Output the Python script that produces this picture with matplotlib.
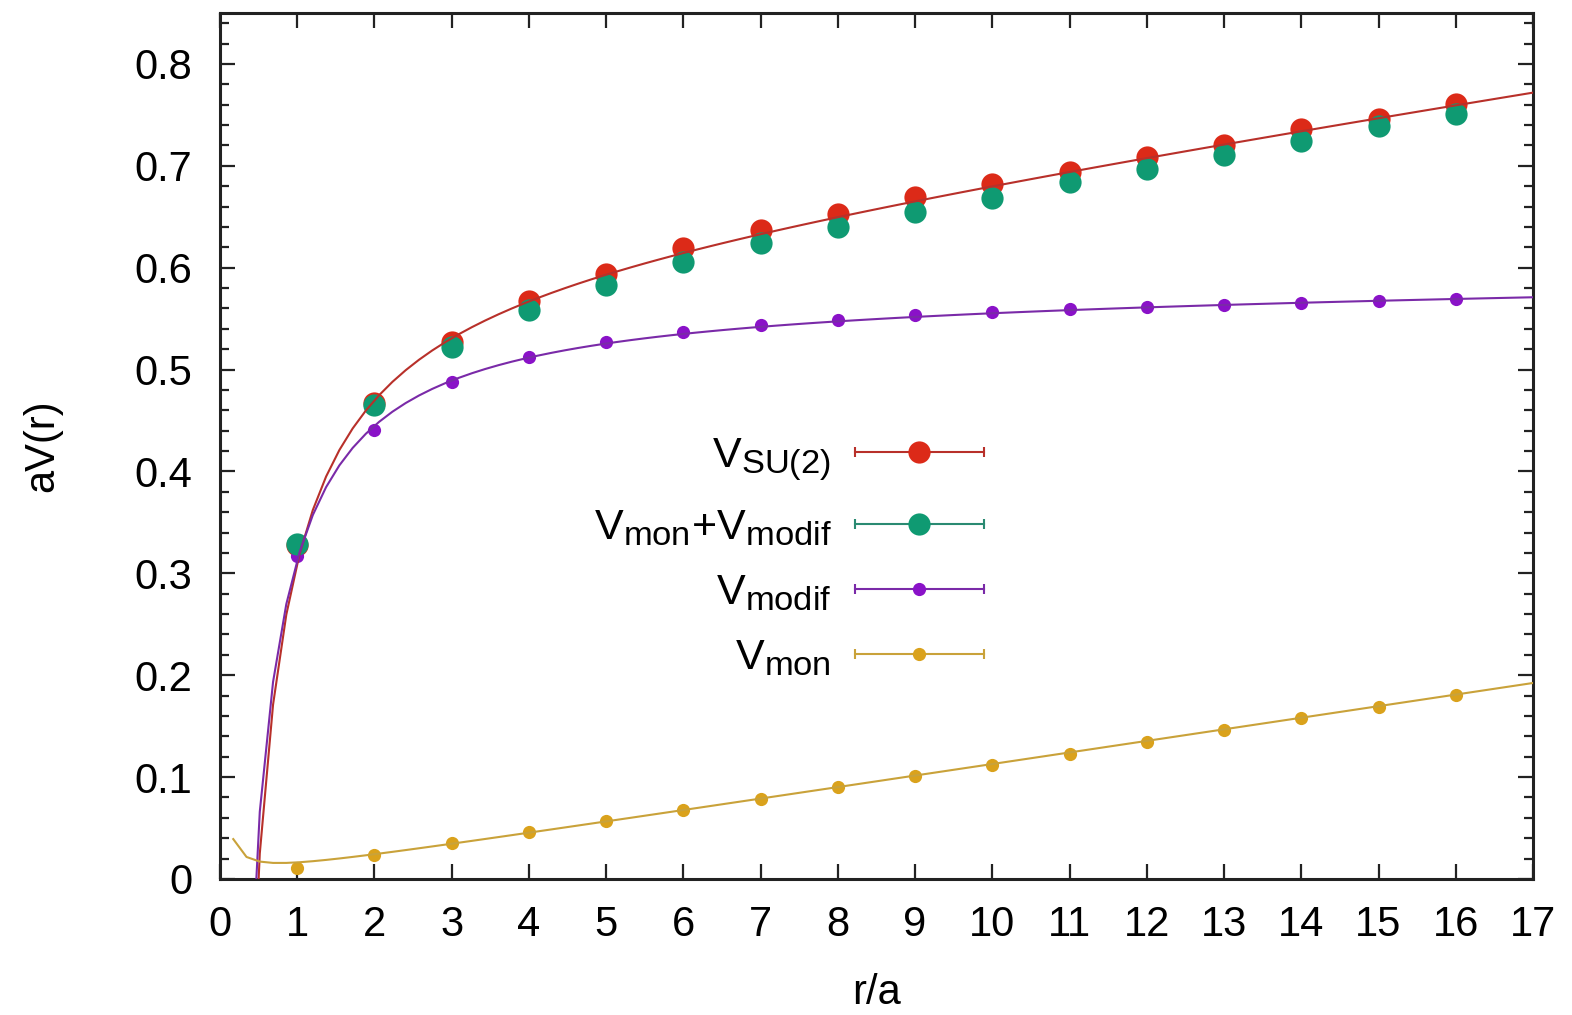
import numpy as np
import matplotlib
matplotlib.use("Agg")
import matplotlib.pyplot as plt
from matplotlib.lines import Line2D
from matplotlib.legend_handler import HandlerBase
from matplotlib.ticker import MultipleLocator, FuncFormatter
import matplotlib._mathtext as _mt

_mt.SHRINK_FACTOR = 0.8

plt.rcParams['font.family'] = ['Liberation Sans', 'DejaVu Sans']
plt.rcParams['mathtext.fontset'] = 'custom'
plt.rcParams['mathtext.rm'] = 'Liberation Sans'
plt.rcParams['mathtext.it'] = 'Liberation Sans'

# ---------------- data ----------------
r = [1, 2, 3, 4, 5, 6, 7, 8, 9, 10, 11, 12, 13, 14, 15, 16]
v_su2 = [0.328, 0.467, 0.527, 0.567, 0.594, 0.619, 0.637, 0.653, 0.669, 0.682,
         0.694, 0.709, 0.720, 0.736, 0.746, 0.761]
v_mon_modif = [0.329, 0.465, 0.522, 0.558, 0.583, 0.606, 0.624, 0.640, 0.655, 0.668,
               0.684, 0.697, 0.7105, 0.724, 0.739, 0.751]
v_modif = [0.317, 0.4406, 0.488, 0.512, 0.527, 0.537, 0.5437, 0.5486, 0.5535, 0.5564,
           0.5594, 0.5613, 0.5633, 0.5653, 0.5672, 0.5692]
v_mon = [0.011, 0.024, 0.035, 0.046, 0.057, 0.068, 0.079, 0.090, 0.101, 0.112,
         0.123, 0.134, 0.146, 0.158, 0.169, 0.181]

# fit parameters  V(r) = c + sigma*r - alpha/r
fit_su2 = [0.5955, 0.0114, 0.2969]
fit_modif = [0.5745, 0.0007, 0.2621]
fit_mon = [-0.0018, 0.0114, -0.0067]

labels = [r'$\mathregular{V_{SU(2)}}$', r'$\mathregular{V_{mon}{+}V_{modif}}$',
          r'$\mathregular{V_{modif}}$', r'$\mathregular{V_{mon}}$']
x_ticks = list(range(0, 18))
y_ticks = [0, 0.1, 0.2, 0.3, 0.4, 0.5, 0.6, 0.7, 0.8]

# ---------------- style ----------------
c_red, c_green, c_purple, c_yellow = '#dc2a18', '#0f9a72', '#8a12c8', '#daa21c'
l_red, l_purple, l_yellow = '#b8302a', '#7a2aa8', '#c9a23a'

fig = plt.figure(figsize=(15.72, 10.15), dpi=100)
ax = fig.add_axes([220/1572, 1-879/1015, (1533-220)/1572, (879-13)/1015])

ax.plot(r, v_su2, 'o', color=c_red, ms=16, mec='none', zorder=3)
ax.plot(r, v_modif, 'o', color=c_purple, ms=9.5, mec='none', zorder=3.5)
ax.plot(r, v_mon_modif, 'o', color=c_green, ms=16, mec='none', zorder=4)
ax.plot(r, v_mon, 'o', color=c_yellow, ms=9.5, mec='none', zorder=5)

# gnuplot-like sampling of the fitted functions (100 samples)
xs = np.linspace(0, 17, 100)[1:]
def cornell(p, x):
    return p[0] + p[1]*x - p[2]/x
ax.plot(xs, cornell(fit_su2, xs), '-', color=l_red, lw=1.5, zorder=6)
ax.plot(xs, cornell(fit_modif, xs), '-', color=l_purple, lw=1.5, zorder=6)
ax.plot(xs, cornell(fit_mon, xs), '-', color=l_yellow, lw=1.5, zorder=6)

ax.set_xlim(0, 17)
ax.set_ylim(0, 0.85)
ax.set_xticks(x_ticks)
ax.set_yticks(y_ticks)
ax.yaxis.set_minor_locator(MultipleLocator(0.02))
ax.yaxis.set_major_formatter(FuncFormatter(lambda v, p: f'{v:g}'))
ax.tick_params(axis='both', which='both', direction='in', top=True, right=True,
               labelsize=30, width=1.6, color='#222222')
ax.tick_params(axis='both', which='major', length=11)
ax.tick_params(axis='y', which='minor', length=6.5)
ax.tick_params(axis='y', which='major', pad=20)
ax.tick_params(axis='x', which='major', pad=19)
for s in ax.spines.values():
    s.set_linewidth(2.2)
    s.set_color('#222222')

ax.set_xlabel('r/a', fontsize=30, labelpad=20)
ax.set_ylabel('aV(r)', fontsize=30, labelpad=52)


class HandlerErr(HandlerBase):
    def __init__(self, lcolor, mcolor, ms):
        super().__init__()
        self.lcolor, self.mcolor, self.ms = lcolor, mcolor, ms

    def create_artists(self, legend, orig_handle, xdescent, ydescent, width,
                       height, fontsize, trans):
        y = (height - ydescent) / 2
        x0, x1 = -xdescent, width - xdescent
        line = Line2D([x0, x1], [y, y], color=self.lcolor, lw=1.5, transform=trans)
        caps = Line2D([x0, x1], [y, y], ls='none', marker='|', ms=7, mew=1.5,
                      color=self.lcolor, transform=trans)
        mk = Line2D([(x0 + x1) / 2], [y], ls='none', marker='o', ms=self.ms,
                    color=self.mcolor, mec='none', transform=trans)
        return [line, caps, mk]


handles = [Line2D([], []) for _ in range(4)]
hmap = {handles[0]: HandlerErr(l_red, c_red, 16),
        handles[1]: HandlerErr('#2a8a72', c_green, 16),
        handles[2]: HandlerErr(l_purple, c_purple, 9.5),
        handles[3]: HandlerErr(l_yellow, c_yellow, 9.5)}
leg = ax.legend(handles, labels, handler_map=hmap, loc='center right',
                bbox_to_anchor=(984/1572, 1-557/1015), bbox_transform=fig.transFigure,
                frameon=False, markerfirst=False, fontsize=31, handlelength=3.0,
                handletextpad=0.55, labelspacing=0.58, borderpad=0, borderaxespad=0)

fig.savefig('out.png', dpi=100)
